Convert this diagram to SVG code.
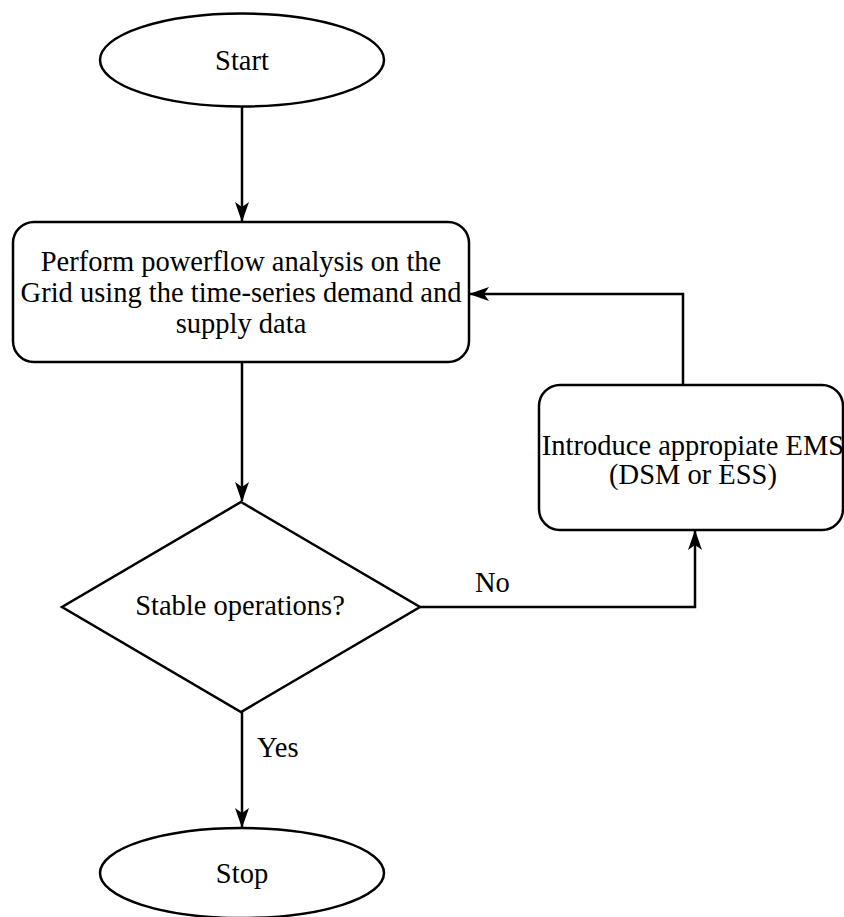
<svg xmlns="http://www.w3.org/2000/svg" width="844" height="917" viewBox="0 0 844 917">
  <style>
    .shape { fill: #ffffff; stroke: #000000; stroke-width: 2.5; }
    .edge { fill: none; stroke: #000000; stroke-width: 2.5; }
    text { font-family: 'Liberation Serif', Tinos, 'Times New Roman', 'DejaVu Serif', serif; font-size: 28.5px; fill: #000000; }
    .mid { text-anchor: middle; }
  </style>
  <defs>
    <marker id="arrow" viewBox="0 0 20 14" refX="19" refY="7" markerWidth="20" markerHeight="14" markerUnits="userSpaceOnUse" orient="auto">
      <path d="M0,0 L20,7 L0,14 L5,7 Z" fill="#000000"/>
    </marker>
  </defs>

  <rect width="844" height="917" fill="#ffffff"/>

  <!-- connectors -->
  <g id="connectors">
    <path class="edge" d="M242,106 L242,221" marker-end="url(#arrow)"/>
    <path class="edge" d="M242,362 L242,501" marker-end="url(#arrow)"/>
    <path class="edge" d="M242,712 L242,827" marker-end="url(#arrow)"/>
    <path class="edge" d="M420,607 L695,607 L695,531" marker-end="url(#arrow)"/>
    <path class="edge" d="M683,385 L683,294 L470,294" marker-end="url(#arrow)"/>
    <text font-family="Liberation Serif, serif" x="475" y="592">No</text>
    <text font-family="Liberation Serif, serif" x="257" y="757">Yes</text>
  </g>

  <!-- start terminal -->
  <g id="start" font-family="Liberation Serif, serif">
    <ellipse class="shape" cx="242" cy="60" rx="142" ry="46.5"/>
    <text class="mid" x="242" y="70">Start</text>
  </g>

  <!-- power flow analysis step -->
  <g id="powerflow" font-family="Liberation Serif, serif">
    <rect class="shape" x="13" y="222" width="456" height="140" rx="21" ry="21"/>
    <text class="mid" x="241" y="271">Perform powerflow analysis on the</text>
    <text class="mid" x="241" y="302">Grid using the time-series demand and</text>
    <text class="mid" x="241" y="333">supply data</text>
  </g>

  <!-- energy management step -->
  <g id="ems" font-family="Liberation Serif, serif">
    <rect class="shape" x="539" y="385" width="304" height="145" rx="21" ry="21"/>
    <text class="mid" x="693" y="455">Introduce appropiate EMS</text>
    <text class="mid" x="693" y="484">(DSM or ESS)</text>
  </g>

  <!-- stability decision -->
  <g id="decision" font-family="Liberation Serif, serif">
    <polygon class="shape" points="241,502 420,607 241,712 62,607"/>
    <text class="mid" x="240" y="615">Stable operations?</text>
  </g>

  <!-- stop terminal -->
  <g id="stop" font-family="Liberation Serif, serif">
    <ellipse class="shape" cx="242" cy="873" rx="142" ry="45"/>
    <text class="mid" x="242" y="883">Stop</text>
  </g>
</svg>
